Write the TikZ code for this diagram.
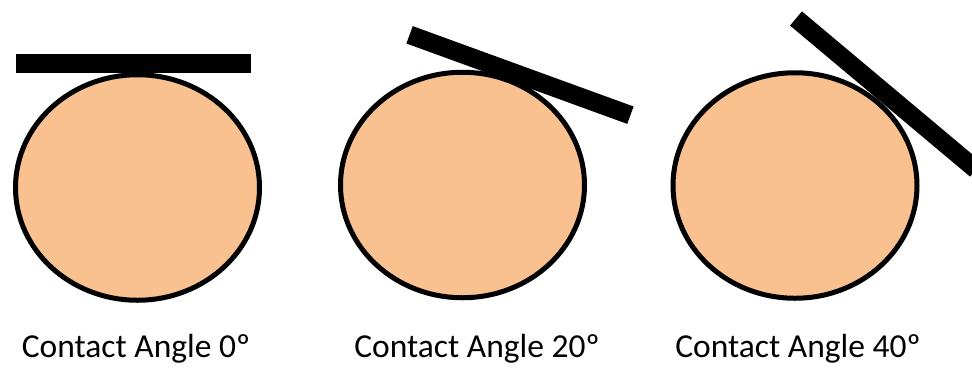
\documentclass[tikz,border=0pt]{standalone}
\usepackage{fontspec}
\setmainfont{Carlito}
\usetikzlibrary{shapes.geometric}
\definecolor{drop}{HTML}{F8C18F}
\tikzset{
  blob/.style={ellipse, draw=black, line width=5pt, fill=drop, minimum width=244pt, minimum height=225.5pt, inner sep=0pt},
  bar/.style={rectangle, fill=black, minimum width=235pt, minimum height=18.5pt, inner sep=0pt},
  caption/.style={font=\fontsize{33.5}{40}\selectfont, anchor=base, inner sep=0pt}
}
\begin{document}
\begin{tikzpicture}[x=1pt,y=-1pt]
\useasboundingbox (0,0) rectangle (972,368);
\node[blob] (e1) at (137.5,187.5) {};
\node[blob] (e2) at (462.5,185) {};
\node[blob] (e3) at (795,185.5) {};
\node[bar] (b1) at (133.5,63.5) {};
\node[bar, rotate=-20] (b2) at (520,75) {};
\node[bar, rotate=-40] (b3) at (886,94) {};
\node[caption] (t1) at (136,357) {Contact Angle 0º};
\node[caption] (t2) at (477,357) {Contact Angle 20º};
\node[caption] (t3) at (798,357) {Contact Angle 40º};
\end{tikzpicture}
\end{document}
